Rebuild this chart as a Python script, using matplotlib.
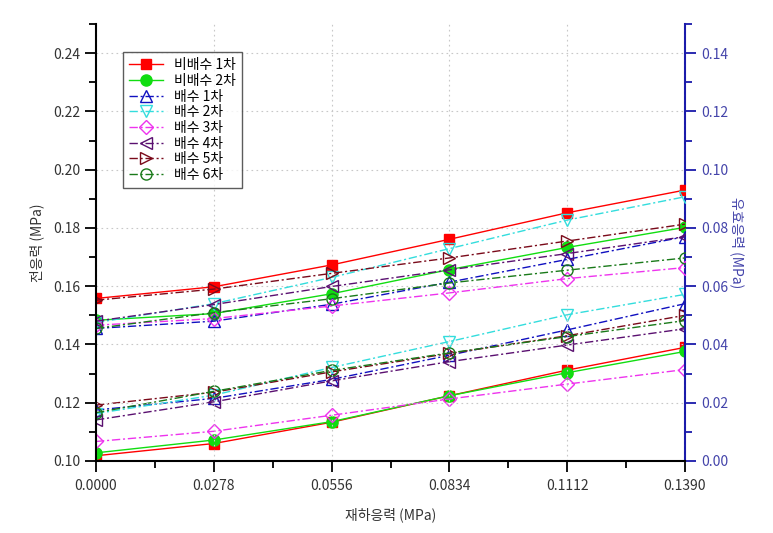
import matplotlib
matplotlib.use("Agg")
import matplotlib.pyplot as plt
from matplotlib.ticker import MultipleLocator, FixedLocator

plt.rcParams['font.family'] = ['Noto Sans CJK KR', 'DejaVu Sans']

x = [0.0000, 0.0278, 0.0556, 0.0834, 0.1112, 0.1390]
xtick_labels = ['0.0000', '0.0278', '0.0556', '0.0834', '0.1112', '0.1390']

labels = ['비배수 1차', '비배수 2차', '배수 1차', '배수 2차', '배수 3차', '배수 4차', '배수 5차', '배수 6차']

# total stress (left axis)
total_u1 = [0.1558, 0.1598, 0.1673, 0.1761, 0.1852, 0.1930]
total_u2 = [0.1483, 0.1506, 0.1574, 0.1657, 0.1733, 0.1802]
total_d1 = [0.1455, 0.1480, 0.1538, 0.1614, 0.1692, 0.1770]
total_d2 = [0.1475, 0.1540, 0.1630, 0.1729, 0.1827, 0.1907]
total_d3 = [0.1466, 0.1489, 0.1532, 0.1577, 0.1626, 0.1664]
total_d4 = [0.1480, 0.1537, 0.1599, 0.1656, 0.1712, 0.1770]
total_d5 = [0.1552, 0.1590, 0.1644, 0.1697, 0.1755, 0.1813]
total_d6 = [0.1455, 0.1509, 0.1557, 0.1611, 0.1655, 0.1697]

# effective stress (right axis)
eff_u1 = [0.0018, 0.0060, 0.0133, 0.0224, 0.0312, 0.0390]
eff_u2 = [0.0028, 0.0072, 0.0135, 0.0224, 0.0303, 0.0376]
eff_d1 = [0.0175, 0.0215, 0.0280, 0.0363, 0.0450, 0.0540]
eff_d2 = [0.0163, 0.0226, 0.0321, 0.0410, 0.0502, 0.0572]
eff_d3 = [0.0067, 0.0102, 0.0157, 0.0213, 0.0264, 0.0314]
eff_d4 = [0.0141, 0.0203, 0.0275, 0.0341, 0.0398, 0.0454]
eff_d5 = [0.0192, 0.0236, 0.0306, 0.0369, 0.0430, 0.0500]
eff_d6 = [0.0166, 0.0239, 0.0311, 0.0371, 0.0427, 0.0482]

totals = [total_u1, total_u2, total_d1, total_d2, total_d3, total_d4, total_d5, total_d6]
effs = [eff_u1, eff_u2, eff_d1, eff_d2, eff_d3, eff_d4, eff_d5, eff_d6]

colors = ['#ff0000', '#11dd11', '#1010c0', '#33dddd', '#ee33ee', '#5a1070', '#7a0a1a', '#1a7a1a']
markers = ['s', 'o', '^', 'v', 'D', '<', '>', 'o']
filled = [True, True, False, False, False, False, False, False]
dashdot = (0, (6, 2, 1.5, 2))
styles = ['-', '-', dashdot, dashdot, dashdot, dashdot, dashdot, dashdot]
msizes = [7, 8, 8, 8, 7, 8, 8, 8]

fig = plt.figure(figsize=(7.73, 5.33), dpi=100)
ax = fig.add_axes([96/773, 72/533, 589/773, 437/533])
ax2 = ax.twinx()

handles = []
for i in range(8):
    mfc = colors[i] if filled[i] else 'none'
    h, = ax.plot(x, totals[i], color=colors[i], linestyle=styles[i], linewidth=1.0,
                 marker=markers[i], markersize=msizes[i], markerfacecolor=mfc,
                 markeredgecolor=colors[i], markeredgewidth=1.0, label=labels[i])
    ax2.plot(x, effs[i], color=colors[i], linestyle=styles[i], linewidth=1.0,
             marker=markers[i], markersize=msizes[i], markerfacecolor=mfc,
             markeredgecolor=colors[i], markeredgewidth=1.0)
    handles.append(h)

ax.set_xlim(0, 0.139)
ax.set_ylim(0.10, 0.25)
ax2.set_ylim(0.0, 0.15)

ax.xaxis.set_major_locator(FixedLocator(x))
ax.set_xticklabels(xtick_labels)
ax.xaxis.set_minor_locator(FixedLocator([0.0139, 0.0417, 0.0695, 0.0973, 0.1251]))
ax.yaxis.set_major_locator(FixedLocator([0.10, 0.12, 0.14, 0.16, 0.18, 0.20, 0.22, 0.24]))
ax.yaxis.set_minor_locator(MultipleLocator(0.01))
ax.set_yticklabels(['0.10', '0.12', '0.14', '0.16', '0.18', '0.20', '0.22', '0.24'])
ax2.yaxis.set_major_locator(FixedLocator([0.0, 0.02, 0.04, 0.06, 0.08, 0.10, 0.12, 0.14]))
ax2.yaxis.set_minor_locator(MultipleLocator(0.01))
ax2.set_yticklabels(['0.00', '0.02', '0.04', '0.06', '0.08', '0.10', '0.12', '0.14'])

ax.grid(True, which='major', linestyle=(0, (1.5, 3)), color='#c8c8c8', linewidth=0.8)
ax.set_axisbelow(True)

for a in (ax, ax2):
    a.spines['top'].set_visible(False)
ax.spines['right'].set_visible(False)
ax.spines['left'].set_linewidth(1.5)
ax.spines['bottom'].set_linewidth(1.5)
ax2.spines['left'].set_visible(False)
ax2.spines['bottom'].set_visible(False)
ax2.spines['right'].set_color('#1a1aaa')
ax2.spines['right'].set_linewidth(1.5)

ax.tick_params(axis='both', which='major', direction='out', length=8, width=1.3,
               labelsize=10, colors='black', labelcolor='#333333')
ax.tick_params(axis='both', which='minor', direction='out', length=5, width=1.3)
ax.tick_params(axis='x', pad=5)
ax2.tick_params(axis='y', which='major', direction='out', length=8, width=1.3,
                labelsize=10, colors='#1a1aaa', labelcolor='#4444aa')
ax2.tick_params(axis='y', which='minor', direction='out', length=5, width=1.3, colors='#1a1aaa')

ax.set_xlabel('재하응력 (MPa)', fontsize=10, color='#333333', labelpad=10)
ax.set_ylabel('전응력 (MPa)', fontsize=10, color='#333333', labelpad=6)
ax2.set_ylabel('유효응력 (MPa)', fontsize=10, color='#4444aa', rotation=-90, labelpad=12)

leg = ax.legend(handles=handles, loc='upper left', bbox_to_anchor=(20/589, 1 - 21/437),
                fontsize=10, frameon=True, fancybox=False, edgecolor='#333333',
                handlelength=2.4, labelspacing=0.12, borderpad=0.45, handletextpad=0.8)
leg.get_frame().set_linewidth(1.0)

ax.set_zorder(ax2.get_zorder() + 1)
ax.patch.set_visible(False)

fig.savefig('out.png', dpi=100)
